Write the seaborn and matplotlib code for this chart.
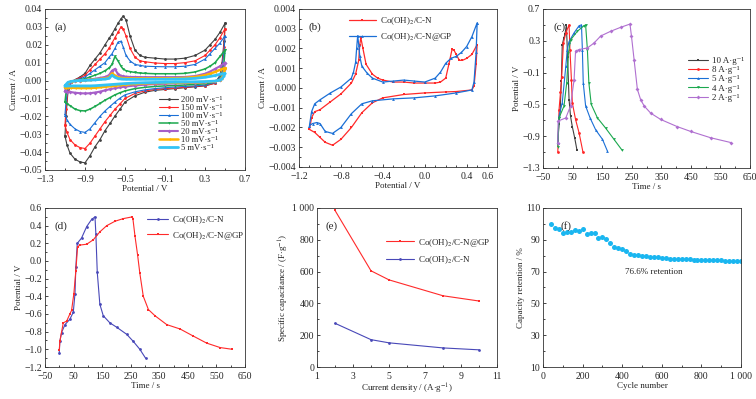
import matplotlib
matplotlib.use("Agg")
import matplotlib.pyplot as plt
from matplotlib.ticker import FuncFormatter, AutoMinorLocator, FixedLocator
import seaborn as sns

sns.set_style("ticks")
plt.rcParams['font.family'] = ['Liberation Serif', 'DejaVu Serif']
plt.rcParams['mathtext.fontset'] = 'stix'
plt.rcParams['font.size'] = 6.5
plt.rcParams['xtick.direction'] = 'in'
plt.rcParams['ytick.direction'] = 'in'
plt.rcParams['xtick.major.size'] = 2.5
plt.rcParams['ytick.major.size'] = 2.5
plt.rcParams['xtick.minor.size'] = 1.5
plt.rcParams['ytick.minor.size'] = 1.5
plt.rcParams['axes.linewidth'] = 0.6
plt.rcParams['xtick.major.width'] = 0.6
plt.rcParams['ytick.major.width'] = 0.6

# ---------- (a) CV at different scan rates ----------
E_fwd = [-1.1, -1.09, -1.07, -1.04, -1.0, -0.95, -0.9, -0.85, -0.8, -0.75, -0.7, -0.66, -0.63, -0.6, -0.57,
         -0.54, -0.52, -0.49, -0.45, -0.4, -0.35, -0.3, -0.2, -0.1, 0.0, 0.1, 0.2, 0.3, 0.35, 0.4, 0.45, 0.5]
E_rev = [0.5, 0.49, 0.47, 0.45, 0.4, 0.3, 0.2, 0.1, 0.0, -0.1, -0.2, -0.3, -0.4, -0.5, -0.55, -0.6, -0.65,
         -0.7, -0.75, -0.8, -0.85, -0.9, -0.95, -1.0, -1.05, -1.08, -1.1]
scan_labels = ["200", "150", "100", "50", "20", "10", "5"]
I_fwd = {
    "200": [-0.031, -0.020, -0.006, -0.001, 0.0005, 0.002, 0.004, 0.0085, 0.012, 0.0155, 0.020, 0.0235, 0.026,
            0.029, 0.032, 0.0345, 0.036, 0.034, 0.025, 0.017, 0.014, 0.013, 0.0125, 0.012, 0.012, 0.0125,
            0.014, 0.017, 0.020, 0.023, 0.027, 0.032],
    "150": [-0.025, -0.016, -0.005, -0.001, 0.0005, 0.0015, 0.003, 0.006, 0.009, 0.012, 0.015, 0.018, 0.021,
            0.024, 0.027, 0.030, 0.029, 0.025, 0.018, 0.013, 0.011, 0.0105, 0.0098, 0.0095, 0.0095, 0.010,
            0.011, 0.014, 0.017, 0.020, 0.024, 0.029],
    "100": [-0.019, -0.012, -0.004, -0.001, 0.0003, 0.001, 0.002, 0.004, 0.006, 0.008, 0.010, 0.013, 0.015,
            0.018, 0.0215, 0.022, 0.019, 0.014, 0.011, 0.009, 0.0085, 0.008, 0.0078, 0.0077, 0.0077, 0.008,
            0.009, 0.012, 0.015, 0.018, 0.021, 0.025],
    "50": [-0.012, -0.007, -0.002, -0.0005, 0.0, 0.0005, 0.001, 0.002, 0.003, 0.004, 0.0055, 0.007, 0.009,
           0.0135, 0.011, 0.008, 0.0065, 0.0055, 0.005, 0.0045, 0.0042, 0.004, 0.0038, 0.0038, 0.0038, 0.004,
           0.0048, 0.0065, 0.008, 0.010, 0.0135, 0.017],
    "20": [-0.006, -0.004, -0.0015, -0.0006, -0.0002, 0.0, 0.0003, 0.0006, 0.001, 0.0015, 0.002, 0.003, 0.0055,
           0.0065, 0.0035, 0.0027, 0.0024, 0.0022, 0.002, 0.002, 0.0019, 0.0019, 0.0019, 0.0019, 0.0019, 0.002,
           0.0025, 0.0038, 0.005, 0.0065, 0.008, 0.010],
    "10": [-0.004, -0.003, -0.0012, -0.0006, -0.0002, 0.0, 0.0002, 0.0004, 0.0006, 0.0009, 0.0012, 0.0018, 0.004,
           0.0028, 0.0018, 0.0015, 0.0013, 0.0012, 0.0012, 0.0012, 0.0012, 0.0012, 0.0012, 0.0012, 0.0013,
           0.0015, 0.002, 0.003, 0.0038, 0.0048, 0.006, 0.007],
    "5": [-0.003, -0.0022, -0.001, -0.0005, -0.0002, 0.0, 0.0001, 0.0002, 0.0004, 0.0006, 0.0008, 0.0012, 0.003,
          0.0018, 0.0011, 0.0009, 0.0008, 0.0007, 0.0007, 0.0007, 0.0007, 0.0007, 0.0007, 0.0007, 0.0008,
          0.0009, 0.0012, 0.0018, 0.0023, 0.0028, 0.0035, 0.004],
}
I_rev = {
    "200": [0.032, 0.022, 0.010, 0.003, -0.0015, -0.003, -0.0035, -0.004, -0.0045, -0.005, -0.0055, -0.0065,
            -0.0085, -0.012, -0.016, -0.0198, -0.024, -0.028, -0.033, -0.037, -0.042, -0.046, -0.0455, -0.044,
            -0.0406, -0.036, -0.031],
    "150": [0.029, 0.019, 0.008, 0.002, -0.0015, -0.0028, -0.0033, -0.0038, -0.0042, -0.0045, -0.005, -0.0058,
            -0.0072, -0.010, -0.013, -0.016, -0.0195, -0.023, -0.027, -0.031, -0.035, -0.038, -0.0375, -0.036,
            -0.033, -0.029, -0.025],
    "100": [0.025, 0.016, 0.007, 0.002, -0.001, -0.0025, -0.003, -0.0033, -0.0036, -0.004, -0.0045, -0.0052,
            -0.0063, -0.008, -0.0098, -0.012, -0.0145, -0.017, -0.020, -0.0235, -0.027, -0.029, -0.0285, -0.027,
            -0.0245, -0.022, -0.019],
    "50": [0.017, 0.010, 0.004, 0.001, -0.0008, -0.0018, -0.0022, -0.0025, -0.0028, -0.003, -0.0033, -0.0038,
           -0.0045, -0.0058, -0.0068, -0.008, -0.0095, -0.011, -0.0128, -0.0145, -0.016, -0.017, -0.0168, -0.016,
           -0.014, -0.013, -0.012],
    "20": [0.010, 0.006, 0.002, 0.0005, -0.0005, -0.001, -0.0012, -0.0014, -0.0016, -0.0018, -0.002, -0.0023,
           -0.0028, -0.0034, -0.0038, -0.0043, -0.0048, -0.0055, -0.0062, -0.0067, -0.0071, -0.0072, -0.0071,
           -0.0068, -0.0064, -0.0062, -0.006],
    "10": [0.007, 0.004, 0.0015, 0.0003, -0.0004, -0.0008, -0.001, -0.0011, -0.0012, -0.0013, -0.0014, -0.0016,
           -0.0019, -0.0023, -0.0026, -0.0029, -0.0032, -0.0035, -0.0038, -0.004, -0.0042, -0.0042, -0.0042,
           -0.0041, -0.004, -0.004, -0.004],
    "5": [0.004, 0.0025, 0.001, 0.0002, -0.0003, -0.0006, -0.0007, -0.0008, -0.0009, -0.001, -0.0011, -0.0012,
          -0.0014, -0.0017, -0.0019, -0.0021, -0.0023, -0.0025, -0.0027, -0.0029, -0.003, -0.003, -0.003,
          -0.003, -0.003, -0.003, -0.003],
}
scan_colors = ["#404040", "#ff2626", "#1a6fd6", "#1ba84e", "#a65fc9", "#ffb300", "#33c3f5"]
scan_markers = ["o", "o", "^", "v", "D", "<", "*"]
scan_lw = [0.8, 0.8, 0.8, 1.1, 1.5, 1.8, 2.0]

# ---------- (b) CV comparison ----------
E_cn_fwd = [-1.1, -1.08, -1.05, -1.0, -0.9, -0.8, -0.7, -0.66, -0.63, -0.62, -0.61, -0.59, -0.56, -0.5,
            -0.45, -0.4, -0.3, -0.2, -0.1, 0.0, 0.1, 0.15, 0.2, 0.23, 0.26, 0.28, 0.3, 0.33, 0.36, 0.4, 0.45, 0.5]
I_cn_fwd = [-0.0021, -0.0015, -0.0012, -0.0011, -0.0007, -0.0003, 0.00025, 0.0007, 0.0014, 0.0022, 0.00255,
            0.0020, 0.0012, 0.0007, 0.0005, 0.0004, 0.0003, 0.0003, 0.00025, 0.00025, 0.00025, 0.0003, 0.0005,
            0.0012, 0.00195, 0.0019, 0.0017, 0.0014, 0.0014, 0.0015, 0.0017, 0.0022]
E_cn_rev = [0.5, 0.49, 0.47, 0.45, 0.3, 0.2, 0.0, -0.2, -0.4, -0.5, -0.6, -0.7, -0.8, -0.88, -0.95, -1.0, -1.05, -1.1]
I_cn_rev = [0.0022, 0.0012, 0.0001, -0.0001, -0.00018, -0.0002, -0.00025, -0.00033, -0.0005, -0.00075, -0.00125,
            -0.002, -0.0026, -0.0029, -0.00275, -0.0025, -0.00225, -0.0021]
E_gp_fwd = [-1.1, -1.08, -1.05, -1.0, -0.9, -0.8, -0.7, -0.68, -0.66, -0.65, -0.64, -0.63, -0.62, -0.6, -0.55,
            -0.5, -0.4, -0.3, -0.2, -0.1, 0.0, 0.1, 0.15, 0.2, 0.25, 0.3, 0.35, 0.4, 0.45, 0.5]
I_gp_fwd = [-0.0019, -0.0012, -0.0008, -0.0006, -0.00025, 0.00005, 0.0005, 0.0008, 0.0013, 0.002, 0.00265,
            0.0022, 0.0016, 0.0011, 0.00075, 0.0005, 0.0003, 0.00035, 0.0004, 0.00035, 0.0003, 0.0005, 0.0008,
            0.00125, 0.0015, 0.0016, 0.0018, 0.0021, 0.0026, 0.0033]
E_gp_rev = [0.5, 0.49, 0.47, 0.45, 0.3, 0.1, -0.1, -0.3, -0.5, -0.6, -0.7, -0.8, -0.88, -0.95, -1.0, -1.03, -1.07, -1.1]
I_gp_rev = [0.0033, 0.0018, 0.0003, -0.0001, -0.00025, -0.0004, -0.0005, -0.00055, -0.00065, -0.0008, -0.0013,
            -0.002, -0.0023, -0.0022, -0.0018, -0.00175, -0.0018, -0.0019]

# ---------- (c) GCD at different current densities ----------
gcd_labels = ["10", "8", "5", "4", "2"]
gcd_t = {
    "10": [0, 4, 8, 12, 15, 20, 24, 29, 33, 38, 43, 49, 57, 65],
    "8": [0, 4, 9, 13, 19, 27, 38, 41, 46, 49, 60, 72, 85],
    "5": [0, 4, 15, 27, 32, 38, 55, 72, 80, 83, 86, 94, 109, 128, 151, 168],
    "4": [0, 4, 21, 30, 36, 43, 66, 89, 94, 100, 105, 113, 134, 162, 190, 218],
    "2": [0, 1, 27, 43, 55, 60, 72, 100, 122, 145, 179, 213, 244, 249, 258, 269, 280, 292, 314, 348, 404,
          449, 517, 585],
}
gcd_v = {
    "10": [-0.98, -0.75, -0.57, -0.2, 0.25, 0.33, 0.38, 0.5, 0.1, -0.44, -0.65, -0.78, -0.92, -1.08],
    "8": [-1.1, -0.57, -0.35, -0.15, 0.27, 0.4, 0.5, 0.19, -0.19, -0.48, -0.69, -0.86, -1.1],
    "5": [-0.98, -0.65, -0.48, -0.02, 0.19, 0.29, 0.4, 0.49, 0.5, 0.19, -0.23, -0.52, -0.67, -0.82, -0.94, -1.09],
    "4": [-1.03, -0.67, -0.52, -0.23, 0.15, 0.31, 0.42, 0.49, 0.5, 0.19, -0.23, -0.5, -0.67, -0.8, -0.94, -1.08],
    "2": [-0.98, -0.71, -0.67, -0.52, -0.19, 0.17, 0.19, 0.21, 0.27, 0.36, 0.42, 0.47, 0.51, 0.36, 0.06,
          -0.31, -0.44, -0.52, -0.61, -0.69, -0.78, -0.84, -0.92, -0.98],
}
gcd_colors = ["#404040", "#ff2626", "#1a6fd6", "#1ba84e", "#b070d0"]
gcd_markers = ["s", "o", "^", "v", "D"]

# ---------- (d) GCD comparison ----------
t_cn = [0, 2, 8, 20, 37, 49, 55, 58, 63, 78, 96, 113, 125, 128, 133, 142, 154, 177, 201, 236, 259, 282, 302]
v_cn = [-1.04, -0.91, -0.81, -0.72, -0.66, -0.58, -0.37, -0.07, 0.2, 0.26, 0.39, 0.47, 0.5, 0.31, -0.13,
        -0.49, -0.62, -0.7, -0.75, -0.83, -0.91, -1.0, -1.1]
t_gp = [0, 2, 14, 26, 37, 43, 51, 58, 64, 72, 96, 119, 142, 166, 195, 224, 256, 258, 265, 274, 282, 294,
        312, 335, 376, 423, 469, 516, 563, 606]
v_gp = [-1.01, -0.91, -0.7, -0.68, -0.6, -0.56, -0.37, -0.11, 0.16, 0.18, 0.19, 0.24, 0.33, 0.4, 0.45, 0.48,
        0.5, 0.47, 0.28, 0.07, -0.14, -0.4, -0.55, -0.62, -0.72, -0.77, -0.85, -0.93, -0.98, -1.0]

# ---------- (e) specific capacitance ----------
current_density = [2, 4, 5, 8, 10]
cap_gp = [985, 605, 548, 448, 415]
cap_cn = [275, 172, 152, 120, 108]

# ---------- (f) cycling ----------
cycles = list(range(40, 1001, 20))
retention = [100, 97.5, 96.5, 94.5, 95, 95, 96, 95.5, 97, 93.5, 94, 94, 91, 92, 90.5, 88, 85.5, 85, 84.5,
             83, 81, 80.5, 80.2, 80, 79.6, 79.3, 79.1, 78.9, 78.7, 78.4, 78.2, 78, 78, 77.9, 77.8, 77.7,
             77.6, 77.5, 77.4, 77.3, 77.2, 77.2, 77.1, 77.0, 76.9, 76.8, 76.7, 76.6, 76.6]

BLUE2 = "#4848b8"
RED2 = "#ff2a2a"
LEG = dict(frameon=False, fontsize=6.5, borderpad=0.2, handletextpad=0.4)


def fmt(dec):
    def f(v, pos):
        v = round(v, 6) + 0.0
        return f"{v:.{dec}f}".replace("-", "\u2212")
    return FuncFormatter(f)


def style(ax, xmin=2, ymin=2):
    ax.xaxis.set_minor_locator(AutoMinorLocator(xmin))
    ax.yaxis.set_minor_locator(AutoMinorLocator(ymin))
    ax.tick_params(which="both", top=False, right=False, labelsize=7)
    ax.tick_params(axis="x", pad=3.5)
    ax.tick_params(axis="y", pad=2)
    for s in ax.spines.values():
        s.set_visible(True)
        s.set_color("#333333")


fig = plt.figure(figsize=(7.56, 3.99), dpi=100)
ax_a = fig.add_axes([0.0595, 0.574, 0.2646, 0.4035])
ax_b = fig.add_axes([0.3955, 0.5815, 0.262, 0.396])
ax_c = fig.add_axes([0.7183, 0.579, 0.2738, 0.3985])
ax_d = fig.add_axes([0.0595, 0.0802, 0.2646, 0.3985])
ax_e = fig.add_axes([0.4193, 0.0802, 0.2381, 0.3985])
ax_f = fig.add_axes([0.7183, 0.0802, 0.2619, 0.3985])

mk = dict(markersize=2, markeredgewidth=0, estimator=None, sort=False)

# (a)
for lab, c, m, lw in zip(scan_labels, scan_colors, scan_markers, scan_lw):
    sns.lineplot(x=E_fwd + E_rev, y=I_fwd[lab] + I_rev[lab], color=c, marker=m, linewidth=lw,
                 label=lab + " mV\u00b7s\u207b\u00b9", ax=ax_a, **mk)
ax_a.set_xlim(-1.3, 0.7)
ax_a.set_ylim(-0.05, 0.04)
ax_a.set_xticks([-1.3, -0.9, -0.5, -0.1, 0.3, 0.7])
ax_a.set_yticks([-0.05, -0.04, -0.03, -0.02, -0.01, 0.0, 0.01, 0.02, 0.03, 0.04])
ax_a.xaxis.set_major_formatter(fmt(1))
ax_a.yaxis.set_major_formatter(fmt(2))
ax_a.set_xlabel("Potential / V", labelpad=1)
ax_a.set_ylabel("Current / A", labelpad=1)
ax_a.legend(loc="upper left", bbox_to_anchor=(0.54, 0.5), handlelength=2.2, labelspacing=0.0,
            **{**LEG, "fontsize": 6.2})
ax_a.text(0.05, 0.87, "(a)", transform=ax_a.transAxes, fontsize=8)
style(ax_a)

# (b)
sns.lineplot(x=E_cn_fwd + E_cn_rev, y=I_cn_fwd + I_cn_rev, color=RED2, marker="s",
             linewidth=0.9, label=r"Co(OH)$_2$/C-N", ax=ax_b, **mk)
sns.lineplot(x=E_gp_fwd + E_gp_rev, y=I_gp_fwd + I_gp_rev, color="#1a6fd6", marker="^",
             linewidth=0.9, label=r"Co(OH)$_2$/C-N@GP", ax=ax_b, **mk)
ax_b.set_xlim(-1.2, 0.69)
ax_b.set_ylim(-0.004, 0.004)
ax_b.set_xticks([-1.2, -0.8, -0.4, 0.0, 0.4, 0.6])
ax_b.set_yticks([-0.004, -0.003, -0.002, -0.001, 0.0, 0.001, 0.002, 0.003, 0.004])
ax_b.xaxis.set_major_formatter(fmt(1))
ax_b.yaxis.set_major_formatter(fmt(3))
ax_b.set_xlabel("Potential / V", labelpad=1)
ax_b.set_ylabel("Current / A", labelpad=1)
ax_b.legend(loc="upper left", bbox_to_anchor=(0.22, 1.0), handlelength=3.0, labelspacing=0.5, **LEG)
ax_b.text(0.05, 0.87, "(b)", transform=ax_b.transAxes, fontsize=8)
style(ax_b)
ax_b.xaxis.set_minor_locator(FixedLocator([-1.1, -1.0, -0.9, -0.7, -0.6, -0.5, -0.3, -0.2, -0.1,
                                           0.1, 0.2, 0.3, 0.5]))

# (c)
for lab, c, m in zip(gcd_labels, gcd_colors, gcd_markers):
    sns.lineplot(x=gcd_t[lab], y=gcd_v[lab], color=c, marker=m, linewidth=0.8,
                 label=lab + " A\u00b7g\u207b\u00b9", ax=ax_c, **mk)
ax_c.set_xlim(-50, 650)
ax_c.set_ylim(-1.3, 0.7)
ax_c.set_xticks([-50, 50, 150, 250, 350, 450, 550, 650])
ax_c.set_yticks([-1.3, -0.9, -0.5, -0.1, 0.3, 0.7])
ax_c.xaxis.set_major_formatter(fmt(0))
ax_c.yaxis.set_major_formatter(fmt(1))
ax_c.set_xlabel("Time / s", labelpad=1)
ax_c.set_ylabel("Potential / V", labelpad=1)
ax_c.legend(loc="upper right", bbox_to_anchor=(1.0, 0.74), handlelength=2.2, labelspacing=0.1, **LEG)
ax_c.text(0.05, 0.87, "(c)", transform=ax_c.transAxes, fontsize=8)
style(ax_c)

# (d)
sns.lineplot(x=t_cn, y=v_cn, color=BLUE2, marker="o", linewidth=0.8,
             label=r"Co(OH)$_2$/C-N", ax=ax_d, **mk)
sns.lineplot(x=t_gp, y=v_gp, color=RED2, marker="s", linewidth=0.8,
             label=r"Co(OH)$_2$/C-N@GP", ax=ax_d, **mk)
ax_d.set_xlim(-50, 650)
ax_d.set_ylim(-1.2, 0.6)
ax_d.set_xticks([-50, 50, 150, 250, 350, 450, 550, 650])
ax_d.set_yticks([-1.2, -1.0, -0.8, -0.6, -0.4, -0.2, 0.0, 0.2, 0.4, 0.6])
ax_d.xaxis.set_major_formatter(fmt(0))
ax_d.yaxis.set_major_formatter(fmt(1))
ax_d.set_xlabel("Time / s", labelpad=1)
ax_d.set_ylabel("Potential / V", labelpad=1)
ax_d.legend(loc="upper right", bbox_to_anchor=(1.03, 1.0), handlelength=2.4, labelspacing=0.4, **LEG)
ax_d.text(0.05, 0.87, "(d)", transform=ax_d.transAxes, fontsize=8)
style(ax_d)

# (e)
sns.lineplot(x=current_density, y=cap_gp, color=RED2, marker="s", linewidth=0.8,
             label=r"Co(OH)$_2$/C-N@GP", ax=ax_e, **mk)
sns.lineplot(x=current_density, y=cap_cn, color=BLUE2, marker="o", linewidth=0.8,
             label=r"Co(OH)$_2$/C-N", ax=ax_e, **mk)
ax_e.set_xlim(1, 11)
ax_e.set_ylim(0, 1000)
ax_e.set_xticks([1, 3, 5, 7, 9, 11])
ax_e.set_yticks([0, 200, 400, 600, 800, 1000])
ax_e.set_yticklabels(["0", "200", "400", "600", "800", "1 000"])
ax_e.set_xlabel(r"Current density / (A$\cdot$g$^{-1}$)", labelpad=1)
ax_e.set_ylabel(r"Specific capacitance / (F$\cdot$g$^{-1}$)", labelpad=1)
ax_e.legend(loc="upper right", bbox_to_anchor=(1.0, 0.86), handlelength=3.2, labelspacing=0.6, **LEG)
ax_e.text(0.05, 0.87, "(e)", transform=ax_e.transAxes, fontsize=8)
style(ax_e)

# (f)
sns.lineplot(x=cycles, y=retention, color="#1ab6f0", marker="o", linewidth=0, markersize=3.6,
             markeredgewidth=0, estimator=None, sort=False, ax=ax_f)
ax_f.set_xlim(0, 1000)
ax_f.set_ylim(10, 110)
ax_f.set_xticks([0, 200, 400, 600, 800, 1000])
ax_f.set_xticklabels(["0", "200", "400", "600", "800", "1 000"])
ax_f.set_yticks([10, 30, 50, 70, 90, 110])
ax_f.set_xlabel("Cycle number", labelpad=1)
ax_f.set_ylabel("Capacity retention / %", labelpad=1)
ax_f.text(415, 70, "76.6% retention", fontsize=6.5, va="center")
ax_f.text(0.09, 0.87, "(f)", transform=ax_f.transAxes, fontsize=8)
style(ax_f)

fig.savefig("out.png", dpi=100)
